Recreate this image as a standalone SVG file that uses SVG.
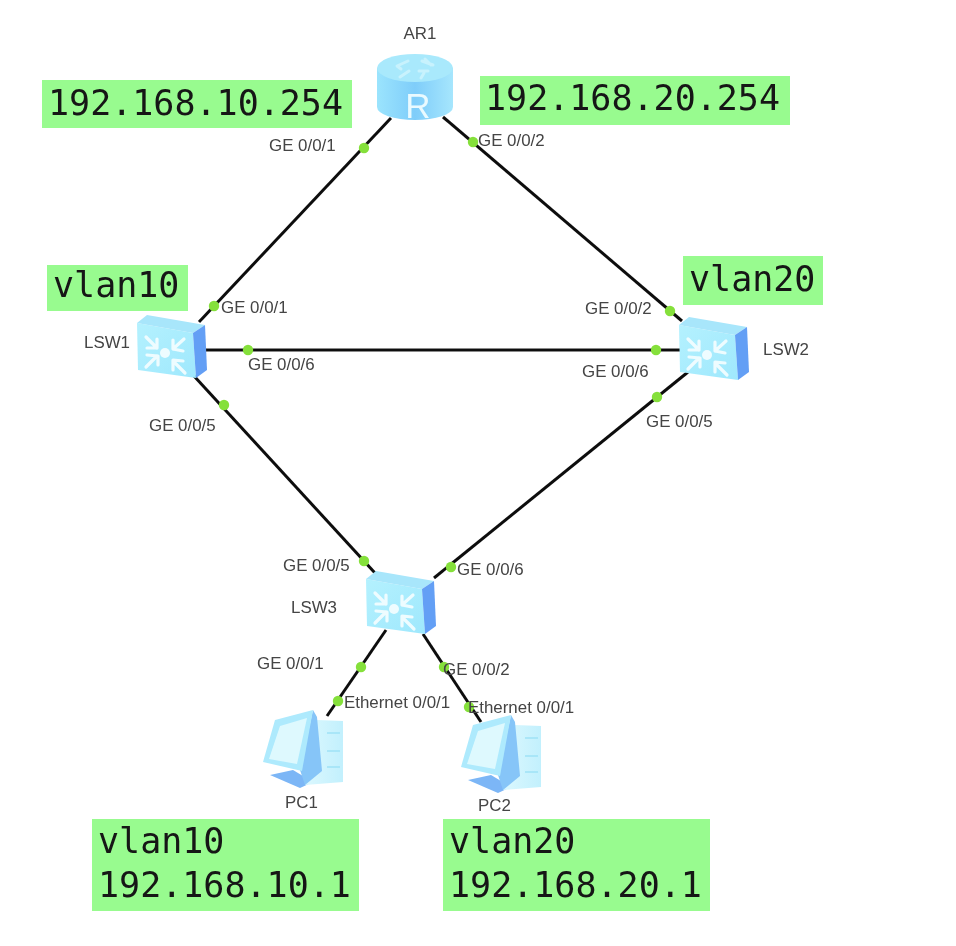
<svg xmlns="http://www.w3.org/2000/svg" width="956" height="946" viewBox="0 0 956 946">
<style>
.lk{stroke:#111;stroke-width:3;fill:none}
.dot{fill:#85e03a}
.lb{font-family:"Liberation Sans",Arial,sans-serif;font-size:16.9px;fill:#444}
.box{fill:#98fb8f}
.mono{font-family:"DejaVu Sans Mono","Liberation Mono",monospace;font-size:35px;fill:#151515}
.gl{fill:none;stroke:#eefcff;stroke-width:3.2;stroke-linecap:round;stroke-linejoin:round}
.gr{fill:none;stroke:#c8f2fd;stroke-width:3;stroke-linecap:round;stroke-linejoin:round}
</style>
<defs>
<filter id="soft" x="0" y="0" width="100%" height="100%"><feGaussianBlur stdDeviation="0.55"/></filter>
<linearGradient id="swf" x1="0" y1="0" x2="1" y2="1"><stop offset="0" stop-color="#b4f1fe"/><stop offset="1" stop-color="#9fe8fd"/></linearGradient>
<linearGradient id="rb" x1="0" y1="0" x2="1" y2="0"><stop offset="0" stop-color="#9be4fd"/><stop offset=".5" stop-color="#7fcdfa"/><stop offset="1" stop-color="#a6e6fd"/></linearGradient>
<linearGradient id="tw" x1="0" y1="0" x2="1" y2="0"><stop offset="0" stop-color="#dcf8fe"/><stop offset="1" stop-color="#c2f0fd"/></linearGradient>
<g id="sw">
<polygon points="0,8 56,18 59,63 1,55" fill="url(#swf)"/>
<polygon points="0,8 10,0 68,10 56,18" fill="#a8e6fb"/>
<polygon points="56,18 68,10 70,55 59,63" fill="#649ff5"/>
<g class="gl">
<path d="M9 22 L20 33 M20 24 L20 33 L10 33"/>
<path d="M47 24 L36 34 M36 25 L36 34 L46 36"/>
<path d="M9 52 L20 41 M10 40 L21 41 L21 50"/>
<path d="M48 58 L36 46 M36 55 L36 45 L46 46"/>
</g>
<circle cx="28" cy="38" r="5" fill="#eefcff"/>
</g>
<g id="pc">
<polygon points="20,68 43,63 63,75 50,81" fill="#7cb6f6"/>
<polygon points="67,13 93,14 93,75 55,78" fill="url(#tw)"/>
<polygon points="67,10 63,3 50,63 55,78 72,64" fill="#86c5f8"/>
<polygon points="13,55 25,13 63,3 52,64" fill="#aeeafd"/>
<polygon points="19,52 30,19 57,11 47,57" fill="#def9fe"/>
<path d="M77 26H90M77 44H90M77 60H90" stroke="#9fe2f6" stroke-width="1.5" fill="none"/>
</g>
</defs>
<rect width="956" height="946" fill="#fff"/>
<g filter="url(#soft)">
<g id="connectors">
<line class="lk" x1="391" y1="118" x2="199" y2="322"/>
<line class="lk" x1="443" y1="117" x2="682" y2="321"/>
<line class="lk" x1="204" y1="350" x2="680" y2="350"/>
<line class="lk" x1="194" y1="376" x2="375" y2="573"/>
<line class="lk" x1="688" y1="372" x2="434" y2="578"/>
<line class="lk" x1="386" y1="630" x2="327" y2="716"/>
<line class="lk" x1="423" y1="634" x2="481" y2="722"/>
<g class="dot">
<circle cx="364" cy="148" r="5.2"/><circle cx="214" cy="306" r="5.2"/>
<circle cx="473" cy="142" r="5.2"/><circle cx="670" cy="311" r="5.2"/>
<circle cx="248" cy="350" r="5.2"/><circle cx="656" cy="350" r="5.2"/>
<circle cx="224" cy="405" r="5.2"/><circle cx="364" cy="561" r="5.2"/>
<circle cx="657" cy="397" r="5.2"/><circle cx="451" cy="567" r="5.2"/>
<circle cx="361" cy="667" r="5.2"/><circle cx="338" cy="701" r="5.2"/>
<circle cx="444" cy="667" r="5.2"/><circle cx="469" cy="707" r="5.2"/>
</g>
</g>
<g id="AR1">
<path d="M377 68V107A38 13 0 0 0 453 107V68Z" fill="url(#rb)"/>
<ellipse cx="415" cy="68" rx="38" ry="14" fill="#a9e9fc"/>
<g class="gr"><path d="M408 61L397 66L401 69M422 61L433 65M425 59L431 65M409 71L400 77M424 73L421 78M428 71L419 71"/></g>
<text x="418" y="118" text-anchor="middle" font-family="Liberation Sans,Arial,sans-serif" font-size="35" fill="#eafaff">R</text>
<text class="lb" x="420" y="39" text-anchor="middle">AR1</text>
</g>
<g id="LSW1"><use href="#sw" x="137" y="315"/><text class="lb" x="84" y="348">LSW1</text></g>
<g id="LSW2"><use href="#sw" x="679" y="317"/><text class="lb" x="763" y="355">LSW2</text></g>
<g id="LSW3"><use href="#sw" x="366" y="571"/><text class="lb" x="291" y="613">LSW3</text></g>
<g id="PC1"><use href="#pc" x="250" y="707"/><text class="lb" x="285" y="808">PC1</text></g>
<g id="PC2"><use href="#pc" x="448" y="712"/><text class="lb" x="478" y="811">PC2</text></g>
<g id="port-labels">
<text class="lb" x="269" y="151">GE 0/0/1</text>
<text class="lb" x="478" y="146">GE 0/0/2</text>
<text class="lb" x="221" y="313">GE 0/0/1</text>
<text class="lb" x="585" y="314">GE 0/0/2</text>
<text class="lb" x="248" y="370">GE 0/0/6</text>
<text class="lb" x="582" y="377">GE 0/0/6</text>
<text class="lb" x="149" y="431">GE 0/0/5</text>
<text class="lb" x="646" y="427">GE 0/0/5</text>
<text class="lb" x="283" y="571">GE 0/0/5</text>
<text class="lb" x="457" y="575">GE 0/0/6</text>
<text class="lb" x="257" y="669">GE 0/0/1</text>
<text class="lb" x="443" y="675">GE 0/0/2</text>
<text class="lb" x="344" y="708">Ethernet 0/0/1</text>
<text class="lb" x="468" y="713">Ethernet 0/0/1</text>
</g>
<g id="note-gw10"><rect class="box" x="42" y="80" width="310" height="48"/><text class="mono" x="48" y="115">192.168.10.254</text></g>
<g id="note-gw20"><rect class="box" x="480" y="76" width="310" height="49"/><text class="mono" x="485" y="110">192.168.20.254</text></g>
<g id="note-vlan10"><rect class="box" x="47" y="265" width="141" height="46"/><text class="mono" x="53" y="297">vlan10</text></g>
<g id="note-vlan20"><rect class="box" x="683" y="256" width="140" height="49"/><text class="mono" x="689" y="291">vlan20</text></g>
<g id="note-pc1"><rect class="box" x="92" y="819" width="267" height="92"/><text class="mono" x="98" y="853">vlan10</text><text class="mono" x="98" y="897">192.168.10.1</text></g>
<g id="note-pc2"><rect class="box" x="443" y="819" width="267" height="92"/><text class="mono" x="449" y="853">vlan20</text><text class="mono" x="449" y="897">192.168.20.1</text></g>
</g>
</svg>
